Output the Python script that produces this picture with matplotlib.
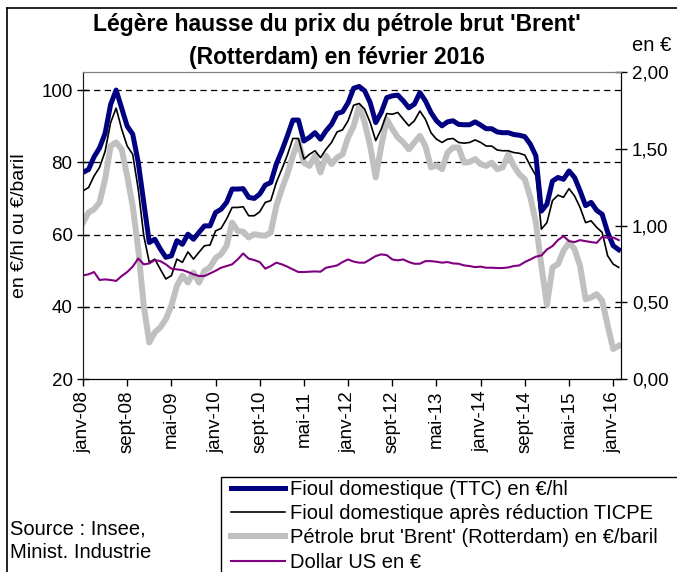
import matplotlib
matplotlib.use('Agg')
import matplotlib.pyplot as plt
from matplotlib.lines import Line2D
from matplotlib.patches import Rectangle

plt.rcParams['font.family'] = ['Liberation Sans', 'DejaVu Sans']

# Données mensuelles janv-08 -> févr-16
tick_labels = ['janv-08', 'sept-08', 'mai-09', 'janv-10', 'sept-10', 'mai-11', 'janv-12',
               'sept-12', 'mai-13', 'janv-14', 'sept-14', 'mai-15', 'janv-16']

fioul_ttc = [77.2, 78.0, 81.5, 84.0, 88.0, 96.0, 100.0, 95.0, 90.0, 87.8, 80.0, 68.9,
             57.8, 58.7, 56.0, 53.7, 54.1, 58.3, 57.3, 60.1, 58.7, 60.6, 62.4, 62.4,
             66.1, 67.0, 68.9, 72.6, 72.6, 72.7, 70.3, 70.0, 71.2, 73.7, 74.4, 79.5,
             83.2, 87.3, 91.7, 91.7, 85.9, 86.9, 88.2, 86.4, 88.7, 90.5, 93.5, 94.0,
             96.5, 100.5, 101.0, 99.8, 96.5, 91.0, 93.8, 97.9, 98.4, 98.6, 97.0, 95.1,
             96.1, 99.3, 97.0, 93.8, 91.5, 90.1, 91.2, 91.5, 90.5, 90.4, 90.4, 91.2,
             90.3, 89.3, 89.3, 88.4, 88.2, 88.2, 87.7, 87.5, 87.1, 85.0, 81.8, 66.5,
             68.4, 74.8, 75.8, 75.3, 77.6, 75.8, 72.1, 68.0, 68.9, 66.7, 65.6, 60.6,
             56.9, 55.8]

fioul_net = [72.1, 73.0, 76.2, 78.6, 83.0, 91.0, 95.0, 89.2, 84.5, 82.2, 72.6, 59.7,
             52.3, 53.2, 50.4, 47.7, 48.6, 53.2, 52.3, 55.2, 53.2, 55.1, 56.9, 57.1,
             61.0, 61.7, 64.3, 67.5, 67.5, 67.7, 65.2, 65.2, 66.3, 68.9, 69.4, 74.4,
             78.1, 82.0, 86.6, 86.6, 80.9, 82.2, 83.2, 81.3, 83.6, 85.5, 88.4, 89.0,
             91.5, 95.8, 96.3, 94.7, 91.0, 86.0, 89.2, 93.5, 93.3, 93.8, 91.9, 90.1,
             91.5, 94.2, 91.9, 88.2, 86.4, 85.5, 86.4, 86.6, 85.5, 85.3, 85.5, 86.2,
             85.5, 84.5, 84.5, 83.4, 83.2, 83.2, 82.7, 82.5, 82.0, 79.0, 76.3, 61.5,
             63.3, 69.4, 70.9, 70.3, 72.7, 70.7, 67.5, 63.3, 63.8, 62.0, 60.6, 54.1,
             51.8, 50.9]

brent = [63.3, 66.1, 67.0, 68.9, 75.3, 84.5, 85.5, 83.6, 76.2, 67.9, 56.0, 40.3,
         30.1, 32.9, 34.3, 36.6, 40.3, 45.8, 48.6, 46.7, 49.5, 46.7, 50.0, 50.9,
         53.5, 54.6, 56.9, 63.3, 61.0, 60.8, 59.2, 60.1, 59.8, 59.7, 60.6, 67.9,
         72.6, 76.7, 81.8, 85.9, 79.9, 79.0, 81.8, 77.2, 81.8, 79.5, 81.3, 82.2,
         86.9, 90.0, 95.6, 91.0, 84.5, 75.8, 84.5, 91.9, 89.2, 86.9, 85.5, 83.6,
         85.5, 87.3, 84.5, 78.6, 79.2, 78.1, 82.7, 84.1, 84.1, 79.9, 80.1, 80.9,
         79.5, 79.0, 79.9, 78.1, 78.6, 82.2, 79.0, 76.7, 75.3, 70.3, 63.3, 51.3,
         40.5, 50.9, 51.8, 55.5, 57.8, 56.0, 51.3, 42.1, 42.6, 43.5, 41.7, 34.8,
         28.3, 29.2]

dollar = [0.675, 0.682, 0.697, 0.645, 0.649, 0.645, 0.639, 0.671, 0.697, 0.732, 0.785, 0.747,
          0.753, 0.775, 0.768, 0.747, 0.719, 0.714, 0.710, 0.697, 0.682, 0.671, 0.671, 0.688,
          0.705, 0.725, 0.736, 0.747, 0.779, 0.818, 0.784, 0.775, 0.762, 0.719, 0.736, 0.758,
          0.747, 0.732, 0.714, 0.697, 0.697, 0.699, 0.701, 0.699, 0.725, 0.732, 0.740, 0.762,
          0.779, 0.765, 0.758, 0.758, 0.779, 0.801, 0.812, 0.807, 0.779, 0.773, 0.779, 0.762,
          0.751, 0.751, 0.768, 0.768, 0.764, 0.758, 0.762, 0.753, 0.751, 0.740, 0.736, 0.729,
          0.732, 0.725, 0.725, 0.723, 0.723, 0.727, 0.736, 0.740, 0.762, 0.779, 0.797, 0.805,
          0.844, 0.866, 0.905, 0.931, 0.898, 0.892, 0.905, 0.898, 0.892, 0.887, 0.926, 0.920,
          0.922, 0.905]

months = list(range(len(fioul_ttc)))

fig = plt.figure(figsize=(6.77, 5.72), dpi=100)
ax = fig.add_axes([0.1226, 0.3374, 0.7954, 0.5367])
ax2 = ax.twinx()

ax.plot(months, brent, color='#c0c0c0', lw=4.3, zorder=2, solid_joinstyle='round',
        label="Pétrole brut 'Brent' (Rotterdam) en €/baril")
ax.plot(months, fioul_net, color='black', lw=1.2, zorder=3,
        label='Fioul domestique après réduction TICPE')
ax.plot(months, fioul_ttc, color='#000080', lw=3.6, zorder=4, solid_joinstyle='round',
        label='Fioul domestique (TTC) en €/hl')
ax2.plot(months, dollar, color='#800080', lw=1.5, label='Dollar US en €')

ax.set_xlim(0, 97.5)
ax.set_ylim(20, 105)
ax2.set_ylim(0, 2.0)

ax.set_xticks(range(0, 97, 8))
ax.set_xticklabels(tick_labels, rotation=90, fontsize=13.5)
ax.set_yticks([20, 40, 60, 80, 100])
ax.tick_params(axis='y', labelsize=13.5, direction='inout', length=8, width=1)
ax.tick_params(axis='x', direction='out', length=5, width=1)
ax2.set_yticks([0, 0.5, 1.0, 1.5, 2.0])
ax2.set_yticklabels(['0,00', '0,50', '1,00', '1,50', '2,00'])
ax2.tick_params(axis='y', labelsize=13.5, direction='inout', length=8, width=1)

for y in [40, 60, 80, 100]:
    ax.axhline(y, color='black', lw=0.9, dashes=(5, 3.5), zorder=1)

for a in (ax, ax2):
    a.spines['top'].set_color('#808080')
    a.spines['left'].set_color('#202020')
    a.spines['right'].set_color('black')

ax.set_ylabel('en €/hl ou €/baril', fontsize=14)
ax.yaxis.set_label_coords(-0.102, 0.5)

fig.text(0.498, 0.957, "Légère hausse du prix du pétrole brut 'Brent'",
         ha='center', va='center', fontsize=16.5, fontweight='bold')
fig.text(0.498, 0.899, '(Rotterdam) en février 2016',
         ha='center', va='center', fontsize=16.5, fontweight='bold')
fig.text(0.934, 0.921, 'en €', ha='left', va='center', fontsize=14.5)

fig.text(0.015, 0.076, 'Source : Insee,', ha='left', va='center', fontsize=14.5)
fig.text(0.015, 0.034, 'Minist. Industrie', ha='left', va='center', fontsize=14.5)

# cadres
fig.add_artist(Line2D([0.0103, 0.0103], [0.0, 0.986], color='black', lw=1.2))
fig.add_artist(Line2D([0.0103, 1.0], [0.986, 0.986], color='black', lw=1.2))
fig.add_artist(Rectangle((221 / 677, -0.05), 0.8, 0.05 + 1 - 477 / 572,
                         fill=False, edgecolor='black', lw=1.0))

h1, l1 = ax.get_legend_handles_labels()
h2, l2 = ax2.get_legend_handles_labels()
order = [2, 1, 0]
handles = [h1[i] for i in order] + h2
labels = [l1[i] for i in order] + l2
fig.legend(handles, labels, loc='upper left', bbox_to_anchor=(231 / 677, 1 - 480 / 572),
           frameon=False, fontsize=14.5, handlelength=2.7, handletextpad=0.22,
           labelspacing=0.26, borderpad=0, borderaxespad=0)

fig.savefig('out.png', dpi=100)
